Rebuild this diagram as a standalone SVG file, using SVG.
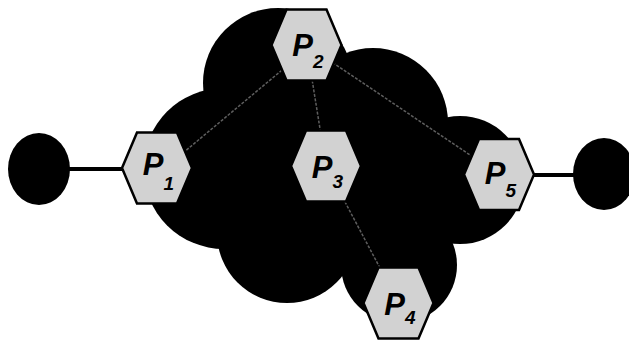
<svg xmlns="http://www.w3.org/2000/svg" xmlns:xlink="http://www.w3.org/1999/xlink" width="629" height="340" viewBox="0 0 629 340">
<style>
.cloud{fill:#000}
.term{fill:#000}
.wire{stroke:#000;stroke-width:4;fill:none}
.link{stroke:#5e5e5e;stroke-width:1.5;fill:none;stroke-dasharray:3 1.5}
.hex{fill:#d2d2d2;stroke:#000;stroke-width:2.5;stroke-linejoin:miter}
.lbl{font-family:"Liberation Sans",Arial,sans-serif;font-weight:bold;font-style:italic;font-size:31px;fill:#000;text-anchor:middle}
.sub{font-size:19px}
</style>
<defs>
<polygon id="hexshape" points="-35,0 -20,-35.5 20,-35.5 35,0 20,35.5 -20,35.5"/>
</defs>
<rect width="629" height="340" fill="#fff"/>
<g id="cloud" class="cloud">
<circle cx="278" cy="83" r="75"/>
<circle cx="224" cy="168.5" r="80.5"/>
<circle cx="287" cy="233" r="70"/>
<circle cx="399" cy="265" r="58"/>
<circle cx="460" cy="180" r="64"/>
<circle cx="373" cy="123" r="75"/>
<circle cx="340" cy="190" r="75"/>
</g>
<g id="connectors">
<line class="wire" x1="68" y1="169" x2="123" y2="169"/>
<line class="wire" x1="533" y1="175" x2="575" y2="175"/>
<line class="link" x1="306" y1="50" x2="165" y2="168"/>
<line class="link" x1="306.5" y1="45" x2="326" y2="166"/>
<line class="link" x1="306.5" y1="45" x2="499" y2="174.5"/>
<line class="link" x1="326" y1="166" x2="398.5" y2="303"/>
</g>
<g id="term-left"><ellipse class="term" cx="39" cy="169" rx="31" ry="36"/></g>
<g id="term-right"><ellipse class="term" cx="604" cy="174" rx="31" ry="36"/></g>
<g id="P1"><use xlink:href="#hexshape" href="#hexshape" class="hex" x="157" y="168"/><text class="lbl" x="158.5" y="175">P<tspan class="sub" dy="15">1</tspan></text></g>
<g id="P2"><use xlink:href="#hexshape" href="#hexshape" class="hex" x="306.5" y="45"/><text class="lbl" x="308" y="56">P<tspan class="sub" dy="12">2</tspan></text></g>
<g id="P3"><use xlink:href="#hexshape" href="#hexshape" class="hex" x="326" y="166"/><text class="lbl" x="327.5" y="178">P<tspan class="sub" dy="10">3</tspan></text></g>
<g id="P4"><use xlink:href="#hexshape" href="#hexshape" class="hex" x="398.5" y="303"/><text class="lbl" x="400" y="315">P<tspan class="sub" dy="9">4</tspan></text></g>
<g id="P5"><use xlink:href="#hexshape" href="#hexshape" class="hex" x="499" y="174.5"/><text class="lbl" x="500.5" y="184">P<tspan class="sub" dy="13">5</tspan></text></g>
</svg>
